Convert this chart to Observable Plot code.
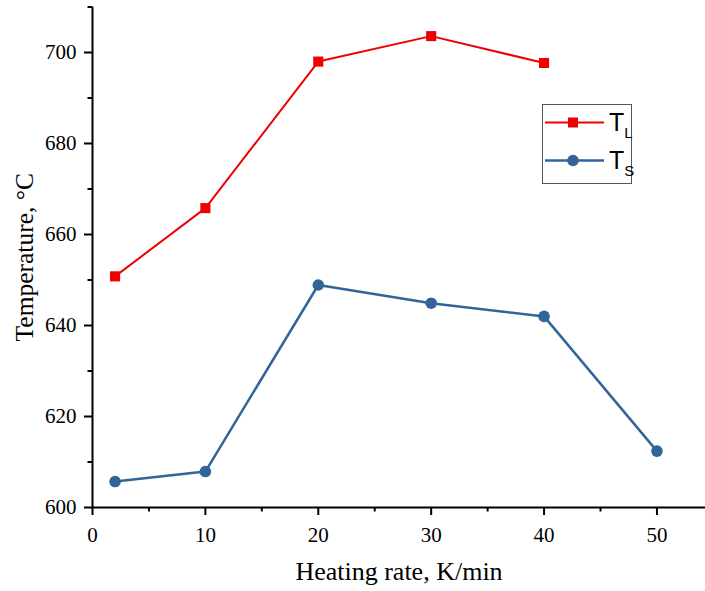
<!DOCTYPE html>
<html>
<head>
<meta charset="utf-8">
<script src="https://cdn.jsdelivr.net/npm/d3@7"></script>
<script src="https://cdn.jsdelivr.net/npm/@observablehq/plot@0.6"></script>
<style>
  html, body { margin: 0; padding: 0; background: #fff; }
  #wrap { position: relative; width: 705px; height: 591px; }
  #legend { position: absolute; left: 542px; top: 104px; }
</style>
</head>
<body>
<div id="wrap"></div>
<script>
// ---- data ----
const heatingRateTL = [2, 10, 20, 30, 40];
const tempTL = [650.8, 665.8, 698.0, 703.6, 697.7];
const heatingRateTS = [2, 10, 20, 30, 40, 50];
const tempTS = [605.7, 607.9, 648.9, 644.9, 642.0, 612.4];
const xMajorTicks = [0, 10, 20, 30, 40, 50];
const xMinorTicks = [5, 15, 25, 35, 45];
const yMajorTicks = [600, 620, 640, 660, 680, 700];
const yMinorTicks = [610, 630, 650, 670, 690, 710];
const xDomain = [0, 54.3];
const yDomain = [600, 710];
const xTitle = "Heating rate, K/min";
const yTitle = "Temperature, °C";

const red = "#f00000";
const blue = "#31659a";

const tl = heatingRateTL.map((x, i) => ({x, y: tempTL[i]}));
const ts = heatingRateTS.map((x, i) => ({x, y: tempTS[i]}));

const chart = Plot.plot({
  width: 705,
  height: 591,
  marginLeft: 92,
  marginRight: 0,
  marginTop: 6.5,
  marginBottom: 84,
  x: {domain: xDomain},
  y: {domain: yDomain},
  style: {fontFamily: "'Liberation Serif', 'Times New Roman', serif", fontSize: "21px", color: "#000", background: "#fff", overflow: "visible"},
  marks: [
    Plot.axisX({ticks: xMajorTicks, tickSize: 8, tickPadding: 12, strokeWidth: 2, label: null, fontSize: 21}),
    Plot.axisX({ticks: xMinorTicks, tickSize: 4.5, strokeWidth: 2, text: null, label: null}),
    Plot.axisY({ticks: yMajorTicks, tickSize: 8, tickPadding: 8, strokeWidth: 2, label: null, fontSize: 21}),
    Plot.axisY({ticks: yMinorTicks, tickSize: 4.5, strokeWidth: 2, text: null, label: null}),
    Plot.ruleY([yDomain[0]], {stroke: "#000", strokeWidth: 2}),
    Plot.ruleX([xDomain[0]], {stroke: "#000", strokeWidth: 2}),
    Plot.text([xTitle], {frameAnchor: "bottom", textAnchor: "middle", dy: 72, fontSize: 26, fill: "#000"}),
    Plot.text([yTitle], {frameAnchor: "left", textAnchor: "middle", dx: -68, rotate: -90, fontSize: 25.5, fill: "#000"}),
    Plot.line(tl, {x: "x", y: "y", stroke: red, strokeWidth: 2}),
    Plot.dot(tl, {x: "x", y: "y", symbol: "square", r: 5.7, fill: red, stroke: "none"}),
    Plot.line(ts, {x: "x", y: "y", stroke: blue, strokeWidth: 2.5}),
    Plot.dot(ts, {x: "x", y: "y", symbol: "circle", r: 5.8, fill: blue, stroke: "none"})
  ]
});

const wrap = document.getElementById("wrap");
wrap.appendChild(chart);

// legend
const legend = document.createElement("div");
legend.id = "legend";
legend.innerHTML = `
<svg width="92" height="82" xmlns="http://www.w3.org/2000/svg" style="font-family:'Liberation Sans', Arial, sans-serif">
  <rect x="0.5" y="0.5" width="89" height="79" fill="#fff" stroke="#555" stroke-width="1"/>
  <line x1="3" x2="62" y1="18.5" y2="18.5" stroke="${red}" stroke-width="2"/>
  <rect x="26" y="13.5" width="10" height="10" fill="${red}"/>
  <text x="67" y="27" font-size="25" fill="#000">T<tspan font-size="15" dy="7">L</tspan></text>
  <line x1="3" x2="62" y1="56.5" y2="56.5" stroke="${blue}" stroke-width="2.5"/>
  <circle cx="31" cy="56.5" r="5.8" fill="${blue}"/>
  <text x="67" y="65" font-size="25" fill="#000">T<tspan font-size="15" dy="7">S</tspan></text>
</svg>`;
wrap.appendChild(legend);
</script>
</body>
</html>
